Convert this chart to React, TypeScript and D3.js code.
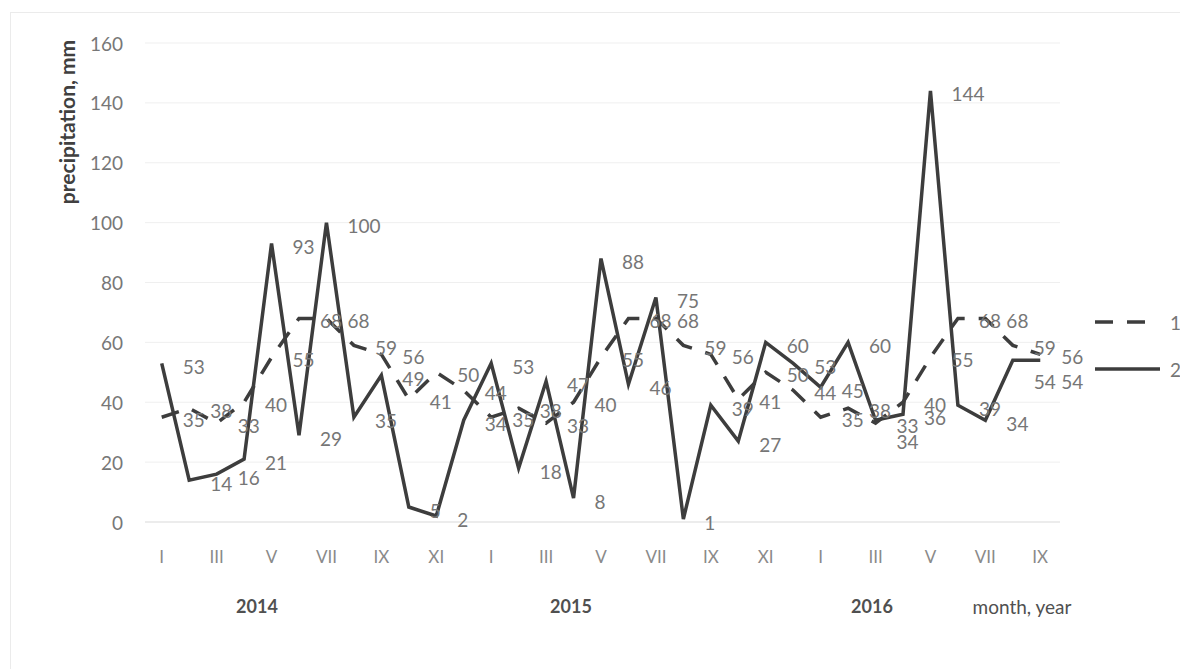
import React from "react";
import * as d3 from "d3";

const months = ["I","II","III","IV","V","VI","VII","VIII","IX","X","XI","XII"];
const years = ["2014", "2015", "2016"];
// Series 1 (dashed): long-term monthly norm, repeated each year
const series1 = [
  35, 38, 33, 40, 55, 68, 68, 59, 56, 41, 50, 44,
  35, 38, 33, 40, 55, 68, 68, 59, 56, 41, 50, 44,
  35, 38, 33, 40, 55, 68, 68, 59, 56,
];
// Series 2 (solid): observed monthly precipitation
const series2 = [
  53, 14, 16, 21, 93, 29, 100, 35, 49, 5, 2, 34,
  53, 18, 47, 8, 88, 46, 75, 1, 39, 27, 60, 53,
  45, 60, 34, 36, 144, 39, 34, 54, 54,
];
const yTicks = [0, 20, 40, 60, 80, 100, 120, 140, 160];
const seriesNames = ["1", "2"];

// category keys "year-month"
const categories: string[] = [];
years.forEach((y) => months.forEach((m) => categories.push(`${y}-${m}`)));
const cats = categories.slice(0, series2.length);

// small label nudges (layout only)
const labelNudge2: Record<number, number> = { 26: 18, 31: 18, 32: 18 };

export default function App() {
  const W = 1180, H = 669;
  const x = d3.scalePoint<string>().domain(cats).range([148, 1054]).padding(0.5);
  const y = d3.scaleLinear().domain([0, 160]).range([522, 43]);
  const line = d3
    .line<number>()
    .x((_, i) => x(cats[i]) as number)
    .y((d) => y(d));

  const font = "Lato, 'Open Sans', sans-serif";
  const lineColor = "#3d3d3d";
  const labelColor = "#767676";

  const yearCenters = [257, 571, 872];

  return (
    <svg
      width={W}
      height={H}
      style={{ position: "absolute", left: 0, top: 0, background: "#fff" }}
      fontFamily={font}
    >
      <rect x={10.5} y={12.5} width={1175} height={660} fill="none" stroke="#d6d6d6" strokeDasharray="1,1" />
      {/* gridlines */}
      {yTicks.map((t) => (
        <line key={t} x1={145} x2={1060} y1={y(t)} y2={y(t)} stroke={t === 0 ? "#d9d9d9" : "#efefef"} strokeWidth={1} />
      ))}
      {/* y tick labels */}
      {yTicks.map((t) => (
        <text key={"yt" + t} x={123} y={y(t)} textAnchor="end" dominantBaseline="central" fontSize={19} fill="#777">
          {t}
        </text>
      ))}
      {/* y title */}
      <text
        transform={`translate(66,122) rotate(-90)`}
        textAnchor="middle"
        dominantBaseline="central"
        fontSize={21}
        fontWeight="bold"
        fill="#404040"
      >
        precipitation, mm
      </text>
      {/* x month labels */}
      {cats.map((c, i) =>
        i % 2 === 0 ? (
          <text key={"xl" + c} x={x(c)} y={556} textAnchor="middle" dominantBaseline="central" fontSize={17} fill="#8a8a8a">
            {months[i % 12]}
          </text>
        ) : null
      )}
      {/* year labels */}
      {years.map((yr, i) => (
        <text key={yr} x={yearCenters[i]} y={606} textAnchor="middle" dominantBaseline="central" fontSize={18} fontWeight="bold" fill="#505050">
          {yr}
        </text>
      ))}
      <text x={1022} y={606} textAnchor="middle" dominantBaseline="central" fontSize={19} fill="#505050">
        month, year
      </text>

      {/* lines */}
      <path d={line(series1) || ""} fill="none" stroke={lineColor} strokeWidth={3.5} strokeDasharray="18,14" />
      <path d={line(series2) || ""} fill="none" stroke={lineColor} strokeWidth={3.5} strokeLinejoin="miter" />

      {/* data labels */}
      {series1.map((v, i) => (
        <text key={"l1" + i} x={(x(cats[i]) as number) + 21} y={y(v) + 2} dominantBaseline="central" fontSize={19} fill={labelColor}>
          {v}
        </text>
      ))}
      {series2.map((v, i) => (
        <text key={"l2" + i} x={(x(cats[i]) as number) + 21} y={y(v) + 3 + (labelNudge2[i] || 0)} dominantBaseline="central" fontSize={19} fill={labelColor}>
          {v}
        </text>
      ))}

      {/* legend */}
      <line x1={1095} x2={1150} y1={322} y2={322} stroke={lineColor} strokeWidth={3.5} strokeDasharray="18,14" />
      <text x={1170} y={322} dominantBaseline="central" fontSize={19} fill={labelColor}>{seriesNames[0]}</text>
      <line x1={1095} x2={1160} y1={369} y2={369} stroke={lineColor} strokeWidth={3.5} />
      <text x={1170} y={369} dominantBaseline="central" fontSize={19} fill={labelColor}>{seriesNames[1]}</text>
    </svg>
  );
}
